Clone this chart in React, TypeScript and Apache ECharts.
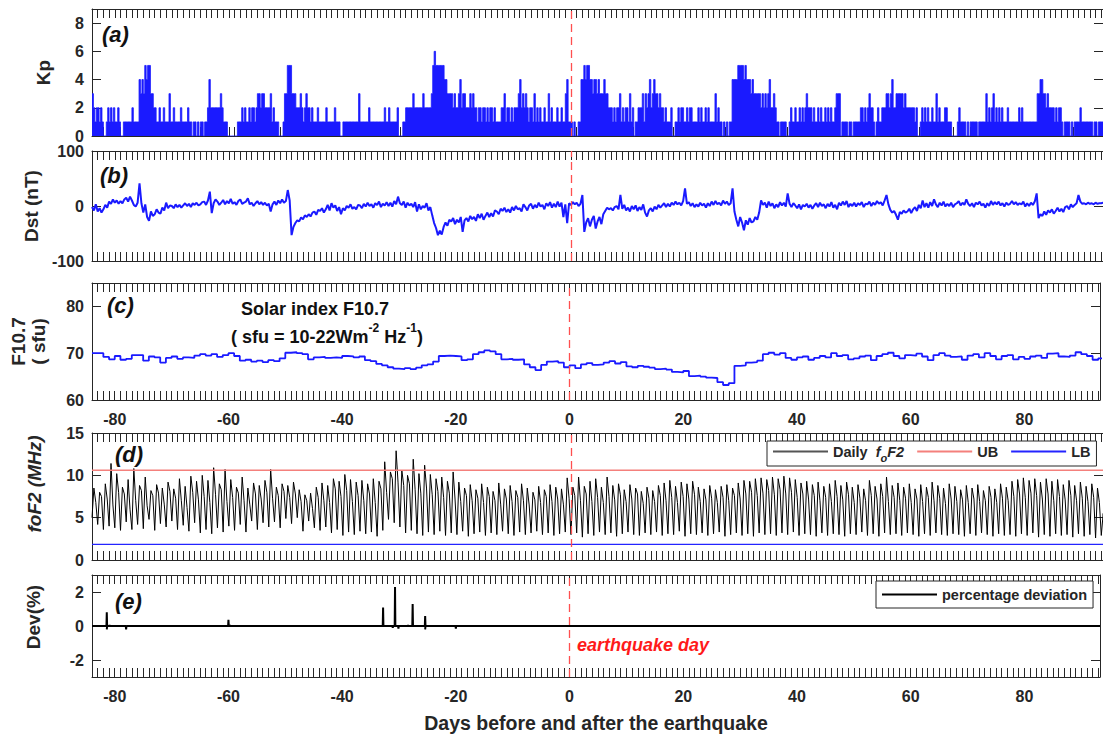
import React, { useEffect, useRef } from 'react';
import * as echarts from 'echarts';

// ---------- axis ranges / tick labels ----------
const X_MIN = -84;
const X_MAX = 93.3;
const xTickLabels = [-80, -60, -40, -20, 0, 20, 40, 60, 80];
const earthquakeDay = 0;

// ---------- (a) Kp, 4 values per day (6-hourly), days -84 .. 93 ----------
const kpRows = [
  '3212 2121 0012 1212 1121 0011 1111 2111 1434 3545',
  '5332 2112 1121 1131 1211 1121 1112 1101 1010 1101',
  '1242 2222 2232 1110 0000 0011 1212 1121 2212 3323',
  '3222 2312 1110 0013 3555 3332 2232 1232 2121 1121',
  '1111 2111 1121 1100 1111 1111 1113 1111 1121 1111',
  '1111 1211 2111 1120 0011 2222 2322 2222 3222 2235',
  '6555 5554 4333 3232 2342 3322 2323 2212 2122 1212',
  '2121 1112 2312 2121 2223 4232 3212 2131 2121 1211',
  '3121 1121 1211 3411 1010 0114 4545 5443 4434 3334',
  '3322 2121 2231 2122 1312 0112 2231 3234 2343 3232',
  '2121 1120 0112 1221 1212 2111 1212 1121 2111 1312',
  '1101 0101 1444 4555 5454 4434 3333 3232 3234 2232',
  '1101 1110 0121 1211 2121 2322 2121 1212 1121 2121',
  '1233 3011 1101 1011 1112 2121 2322 1012 1122 2332',
  '3422 3333 3232 2222 2120 0121 2121 1211 3121 1122',
  '1110 0001 2111 1010 1111 1011 1113 1212 3121 2121',
  '1121 1111 1121 2111 1111 1113 3443 3232 2221 2122',
  '1011 1101 0111 1211 1111 1101 1011 1111',
];

// ---------- (b) Dst (nT), 3 values per day ----------
const dstRows: number[][] = [
  [-2,-8,3, -10,-4,-12, -6,2,-3, 8,4,12, 6,10,4, 9,5,12, 15,8,17, 10,2,-1, 6,41,5, -12,3,-20],
  [-27,-10,-18, -15,-6,-12, -14,-3,-8, 6,-4,1, 0,-4,3, -2,2,-3, 1,5,0, 4,-2,5, 2,6,1, 3,7,8],
  [2,10,26, -13,5,12, 8,2,6, 11,3,9, 5,13,4, 7,2,9, 12,4,6, 8,14,3, 6,0,5, 9,3,7],
  [2,6,1, 4,-10,3, 8,2,10, 5,12,6, 9,29,10, -53,-38,-31, -26,-28,-21, -24,-17,-20, -15,-19,-12, -10,-16,-7],
  [-9,-4,-12, -6,2,-8, 5,-3,1, -9,-2,-15, -4,-8,0, -3,3,-5, -2,-6,2, 1,-4,4, -1,6,0, 3,-3,5],
  [2,8,-2, 4,1,7, 0,6,-1, 9,3,17, 5,2,8, -3,6,1, 4,-2,7, -10,3,-6, 0,-3,5, -8,-2,-17],
  [-31,-40,-53, -45,-52,-38, -30,-36,-25, -28,-22,-33, -25,-30,-20, -47,-26,-22, -28,-18,-24, -20,-27,-15, -22,-14,-25, -18,-12,-20],
  [-13,-19,-8, -10,-15,-5, -9,-3,-11, -6,-12,-2, -8,0,-6, -4,-10,3, -2,-8,1, 4,-5,2, -3,6,-1, 2,-6,5],
  [0,7,-3, 4,-2,8, -1,6,-20, 3,-31,5, 2,7,3, 6,0,4, 20,-47,-30, -22,-37,-25, -18,-41,-28, -20,-33,-15],
  [-9,-3,-6, -4,-8,-2, 0,-6,20, -5,2,-8, -3,-10,0, -6,1,-9, -2,-7,3, -12,-19,-8, -4,-10,-1, -6,2,-3],
  [1,5,-2, 4,-1,6, 2,8,3, 6,1,9, 32,4,7, 0,5,-2, 3,-1,6, 1,4,-3, 5,0,8, 2,9,3],
  [6,1,10, 4,8,2, 5,32,-10, -25,-37,-20, -30,-44,-26, -34,-22,-30, -28,-20,-25, -12,10,2, 6,-3,8, 0,5,-4],
  [3,-2,7, 1,6,-1, 23,4,-2, 5,1,-4, 3,-6,2, -1,4,-3, 2,-5,1, 5,-2,6, 0,3,-4, 4,-1,7],
  [-3,2,-6, 6,1,8, 2,9,-2, 4,0,6, -1,5,2, 7,-2,4, 3,8,0, 6,2,9, 4,7,1, 10,20,3],
  [-7,-12,-9, -16,-25,-11, -14,-8,-12, -10,-5,-13, -6,-2,-9, 2,-4,10, -2,5,-3, 7,0,12, 3,-2,6, 1,8,-1],
  [4,0,6, -2,3,5, 9,1,6, 2,12,4, 0,5,-2, 6,3,8, 1,4,-3, 5,0,9, 2,7,3, 8,1,5],
  [-1,6,2, 4,9,3, 7,2,5, 3,8,-1, 5,0,6, 2,8,23, -22,-15,-18, -10,-16,-8, -12,-6,-14, -9,-3,-10],
  [-5,-11,-2, 0,-6,3, -2,2,5, 20,8,4, 5,3,6, 4,5,3, 6,4,5, 5,6,7],
];

// ---------- (c) F10.7 (sfu), daily ----------
const f107Daily = [
  70.0, 70.0, 69.2, 68.7, 69.4, 68.6, 68.8, 69.6, 69.6, 68.4,
  69.3, 69.1, 68.0, 69.0, 69.3, 68.8, 69.1, 69.0, 69.5, 69.8,
  69.5, 69.8, 69.2, 69.6, 70.0, 69.4, 68.4, 68.6, 68.2, 68.4,
  68.1, 68.5, 68.3, 68.9, 70.1, 70.2, 70.0, 69.8, 68.7, 69.1,
  69.2, 69.0, 69.1, 69.0, 69.4, 69.3, 69.1, 69.3, 68.5, 68.3,
  67.7, 67.4, 67.0, 66.7, 66.6, 66.8, 66.6, 66.9, 67.4, 67.6,
  68.2, 69.4, 69.5, 69.4, 69.3, 68.5, 68.7, 69.8, 70.2, 70.6,
  70.4, 69.8, 68.7, 68.8, 68.6, 68.7, 67.6, 67.0, 66.4, 67.5,
  68.2, 68.3, 68.0, 67.0, 67.4, 66.8, 67.6, 67.9, 67.5, 67.6,
  68.0, 68.3, 67.8, 68.1, 67.2, 67.0, 67.3, 67.1, 66.9, 66.6,
  66.7, 66.5, 66.0, 65.9, 66.2, 65.1, 65.2, 65.0, 64.8, 64.7,
  63.8, 63.2, 63.6, 67.3, 67.4, 68.0, 68.1, 68.4, 69.8, 70.1,
  69.7, 70.0, 69.0, 68.6, 69.1, 69.3, 68.6, 69.0, 69.4, 69.1,
  70.0, 69.4, 69.6, 68.7, 68.9, 69.3, 69.5, 68.5, 69.4, 69.8,
  70.1, 69.4, 68.9, 69.6, 69.5, 69.9, 69.3, 68.5, 69.6, 70.0,
  69.5, 69.2, 69.3, 68.6, 69.5, 69.8, 69.1, 70.0, 69.4, 68.7,
  69.4, 69.6, 68.7, 69.2, 68.8, 69.3, 69.5, 69.0, 69.9, 70.0,
  69.3, 69.2, 69.5, 70.2, 69.8, 69.4, 68.6, 68.9,
];

// ---------- (d) foF2 (MHz), 3 values per day: night low, noon peak, evening ----------
const foF2Rows: number[][] = [
  [5.0,8.5,6.8, 4.2,8.0,7.5, 3.6,9.0,7.2, 4.0,11.4,6.5, 3.8,10.2,8.0, 3.5,8.6,7.8, 4.5,9.5,6.0, 3.6,10.8,7.0, 4.2,8.8,8.2, 3.7,9.8,6.4],
  [4.8,8.2,7.6, 3.5,8.9,7.9, 4.3,8.5,6.6, 3.9,9.2,8.1, 4.6,8.4,7.3, 3.6,9.6,7.0, 4.1,8.7,6.2, 3.4,9.9,8.0, 4.4,9.3,7.1, 3.2,10.0,7.5],
  [3.6,9.4,6.8, 3.1,10.9,7.7, 3.8,9.0,8.3, 3.3,10.7,6.9, 4.0,9.5,7.4, 3.5,8.6,7.9, 4.2,9.8,7.0, 3.3,8.5,6.6, 4.6,9.1,7.8, 3.6,8.8,7.2],
  [4.4,9.4,8.0, 3.9,10.7,7.3, 4.5,8.6,7.6, 3.8,9.0,8.1, 4.9,8.8,7.4, 4.3,9.2,7.8, 5.0,8.3,6.9, 3.4,7.7,7.0, 4.6,7.9,6.1, 3.8,8.6,7.4],
  [3.5,9.1,7.0, 3.9,8.8,6.8, 3.2,9.6,8.4, 3.6,9.3,7.5, 2.9,10.1,8.2, 3.3,9.5,6.9, 3.0,9.2,7.6, 3.4,9.4,7.0, 3.1,9.0,7.8, 3.3,9.6,6.8],
  [2.8,9.3,8.4, 3.5,11.6,8.0, 4.8,10.4,9.6, 4.4,12.9,9.2, 3.9,10.6,8.8, 3.2,10.0,9.0, 3.5,11.9,8.3, 3.1,10.2,7.9, 2.9,11.2,8.5, 3.3,10.1,7.7],
  [3.0,9.6,8.1, 3.4,9.8,7.4, 2.9,9.3,7.9, 3.2,10.4,7.2, 3.0,9.2,6.9, 3.4,8.5,7.6, 2.8,8.9,7.0, 3.1,8.3,7.3, 3.3,9.0,6.8, 2.9,8.6,7.5],
  [3.2,8.1,7.0, 3.0,9.1,6.6, 3.4,8.4,7.2, 3.1,8.8,6.9, 2.9,8.2,7.4, 3.3,9.0,7.0, 3.0,8.5,6.5, 3.2,8.0,7.1, 3.4,8.7,6.8, 3.0,8.3,7.5],
  [3.2,8.9,6.9, 2.9,8.6,7.2, 3.1,8.4,6.6, 3.3,9.7,7.3, 3.0,8.6,7.6, 3.2,9.8,7.0, 2.7,8.7,7.8, 3.1,9.3,6.9, 2.9,9.6,7.4, 3.3,8.6,6.8],
  [3.0,9.8,7.5, 3.2,8.8,7.1, 2.8,9.0,7.7, 3.1,8.3,6.9, 3.3,8.9,7.2, 3.0,8.5,7.8, 2.9,8.1,6.7, 3.2,8.6,7.3, 3.0,8.2,6.9, 3.3,8.8,7.6],
  [2.9,9.1,7.0, 3.1,9.4,7.4, 3.0,8.7,6.8, 3.4,9.2,7.5, 2.8,9.0,7.2, 3.1,9.3,7.7, 3.0,8.6,6.9, 3.2,8.4,7.1, 2.9,8.8,7.3, 3.1,8.3,6.8],
  [3.3,8.7,7.4, 2.8,8.9,7.0, 3.0,8.5,7.6, 3.2,9.1,7.2, 2.9,9.4,7.8, 3.1,9.3,8.0, 2.8,9.6,7.6, 3.2,9.7,7.9, 3.0,9.5,8.2, 3.1,9.8,7.7],
  [2.9,9.6,8.3, 3.2,9.9,7.8, 3.0,9.7,8.0, 3.3,9.5,7.4, 2.9,9.1,7.8, 3.1,9.3,7.2, 3.0,8.9,7.6, 2.8,9.2,7.0, 3.2,8.7,7.4, 2.9,9.0,6.9],
  [3.1,9.4,7.5, 3.0,8.8,7.1, 2.8,9.2,7.7, 3.1,8.6,6.8, 3.0,8.9,7.3, 3.3,8.4,7.0, 2.9,9.4,7.6, 3.1,8.7,7.2, 2.8,9.0,7.5, 3.2,9.8,6.9],
  [3.0,8.8,7.4, 3.1,9.1,7.0, 2.9,8.6,7.3, 3.2,9.0,6.8, 3.0,8.4,7.2, 2.8,8.9,6.9, 3.1,8.6,7.4, 2.9,9.2,7.0, 3.2,8.8,7.3, 3.0,8.5,6.7],
  [2.9,9.0,7.2, 3.1,8.7,6.9, 3.0,8.3,7.1, 2.8,8.8,6.8, 3.1,8.5,7.2, 2.9,8.9,6.9, 3.2,8.2,7.0, 3.0,8.7,7.4, 2.8,8.4,6.8, 3.1,9.0,7.3],
  [2.9,8.6,7.0, 3.0,9.3,7.5, 2.8,9.5,7.8, 3.1,9.7,7.4, 2.9,9.4,7.9, 3.2,9.6,7.6, 2.7,9.2,7.2, 3.0,9.6,7.8, 2.8,9.3,7.0, 3.1,9.5,7.5],
  [2.9,8.9,7.1, 3.0,9.4,7.6, 2.7,8.8,7.0, 3.1,9.2,7.3, 2.8,8.7,6.9, 3.0,9.0,7.4, 2.6,8.5,6.8, 2.9,5.5,3.5],
];
const upperBound = 10.6;
const lowerBound = 1.85;

// ---------- (e) percentage deviation spikes ----------
const devDays = [-81.4, -81.4, -80.9, -78, -60, -59.7, -32.8, -31.1, -30.7, -30.1, -28.4, -27.6, -25.4, -25.4, -20];
const devValues = [0.8, -0.2, 0.05, -0.2, 0.36, 0.05, 1.08, -0.1, 2.3, -0.15, 0.05, 1.3, 0.58, -0.2, -0.15];

// ---------- styling ----------
const FONT = '"Liberation Sans", Arial, Helvetica, sans-serif';
const INK = '#262626';
const BLUE = '#1a1aff';
const DASH_RED = '#ff4f4f';

const kpValues = kpRows.join('').replace(/\s+/g, '').split('').map(Number);
const kpData = kpValues.map((v, k) => [X_MIN + k * 0.25, v]);
kpData.push([X_MIN + kpValues.length * 0.25, kpValues[kpValues.length - 1]]);

const dstValues = dstRows.flat();
const dstData = dstValues.map((v, k) => [X_MIN + k / 3, v]);

const f107Data = f107Daily.map((v, k) => [X_MIN + k, v]);
f107Data.push([X_MIN + f107Daily.length, f107Daily[f107Daily.length - 1]]);

const foF2Values = foF2Rows.flat();
const foF2Data = foF2Values.map((v, k) => [X_MIN + k / 3, v]);

const devData: number[][] = [[X_MIN, 0]];
devDays.forEach((d, i) => {
  devData.push([d - 0.06, 0], [d, devValues[i]], [d + 0.06, 0]);
});
devData.push([X_MAX, 0]);

const gridDefs = [
  [9, 127],
  [151, 110],
  [283, 117],
  [433, 127],
  [575, 102],
];

const tickLabelStyle = { color: INK, fontFamily: FONT, fontWeight: 'bold', fontSize: 16, lineHeight: 14 };
const nameStyle = { color: INK, fontFamily: FONT, fontWeight: 'bold', fontSize: 19 };

function xAxes(gi: number, showLabels: boolean, name?: string) {
  const isTick20 = (v: number) => Math.abs(v - Math.round(v)) < 1e-6 && xTickLabels.includes(Math.round(v));
  const common = {
    type: 'value', gridIndex: gi, min: X_MIN, max: X_MAX, interval: 1,
    axisLine: { show: true, onZero: false, lineStyle: { color: INK, width: 1 } },
    axisTick: { show: true, inside: true, length: 9, lineStyle: { color: INK, width: 1 } },
    splitLine: { show: false },
  };
  return [
    {
      ...common, position: 'bottom',
      axisLabel: {
        show: showLabels, margin: 12, ...tickLabelStyle,
        formatter: (v: number) => (isTick20(v) ? String(Math.round(v)) : ''),
      },
      ...(name ? { name, nameLocation: 'middle', nameGap: 36, nameTextStyle: { ...nameStyle, fontSize: 19.5 } } : {}),
    },
    { ...common, position: 'top', axisLabel: { show: false } },
  ];
}

function yAxes(gi: number, range: any, labelFmt: (v: number) => string, name?: string, nameGap?: number, nameExtra?: any) {
  const common = {
    type: 'value', gridIndex: gi, ...range,
    axisLine: { show: true, onZero: false, lineStyle: { color: INK, width: 1 } },
    axisTick: { show: true, inside: true, length: 9, lineStyle: { color: INK, width: 1 } },
    splitLine: { show: false },
  };
  return [
    {
      ...common, position: 'left',
      axisLabel: { show: true, margin: 8, ...tickLabelStyle, formatter: labelFmt },
      ...(name ? { name, nameLocation: 'middle', nameGap, nameRotate: 90, nameTextStyle: { ...nameStyle, ...(nameExtra || {}) } } : {}),
    },
    { ...common, position: 'right', axisLabel: { show: false } },
  ];
}

const eqMarkLine = {
  silent: true, symbol: 'none', animation: false,
  label: { show: false },
  lineStyle: { color: DASH_RED, type: [8, 5], width: 1.3, opacity: 1 },
  data: [{ xAxis: earthquakeDay }],
};

function buildOption(): any {
  return {
    animation: false,
    backgroundColor: '#ffffff',
    grid: gridDefs.map(([top, height]) => ({ left: 92, width: 1012, top, height })),
    xAxis: [
      ...xAxes(0, false),
      ...xAxes(1, false),
      ...xAxes(2, true),
      ...xAxes(3, false),
      ...xAxes(4, true, 'Days before and after the earthquake'),
    ],
    yAxis: [
      ...yAxes(0, { min: 0, max: 9, interval: 2 }, (v) => (v % 2 === 0 ? String(v) : ''), 'Kp', 39),
      ...yAxes(1, { min: -100, max: 100, interval: 100 }, (v) => String(v), 'Dst (nT)', 41),
      ...yAxes(2, { min: 60, max: 85, interval: 10 }, (v) => (v % 10 === 0 ? String(v) : ''), 'F10.7\n( sfu)', 44, { fontSize: 19, lineHeight: 20 }),
      ...yAxes(3, { min: 0, max: 15, interval: 5 }, (v) => String(v)),
      ...yAxes(4, { min: -3, max: 3, splitNumber: 3 }, (v) => (Math.round(v) % 2 === 0 ? String(v) : '')),
    ],
    legend: [
      {
        left: 767, top: 441, orient: 'horizontal', selectedMode: false,
        data: [{ name: 'Daily foF2', itemStyle: { color: '#555555' } }, 'UB', 'LB'],
        icon: 'rect', itemWidth: 55, itemHeight: 2, itemGap: 13,
        padding: [3, 6, 3, 6], borderColor: INK, borderWidth: 1, backgroundColor: '#ffffff',
        formatter: (n: string) => (n === 'Daily foF2' ? '{a|Daily  }{b|f}{c|o}{b|F2}' : n),
        textStyle: {
          color: INK, fontFamily: FONT, fontWeight: 'bold', fontSize: 14.5,
          rich: {
            a: { color: INK, fontFamily: FONT, fontWeight: 'bold', fontSize: 14.5 },
            b: { color: INK, fontFamily: FONT, fontWeight: 'bold', fontStyle: 'italic', fontSize: 14.5 },
            c: { color: INK, fontFamily: FONT, fontWeight: 'bold', fontStyle: 'italic', fontSize: 11, padding: [12, 0, 0, 0] },
          },
        },
      },
      {
        left: 876, top: 581, orient: 'horizontal', selectedMode: false,
        data: ['percentage deviation'],
        icon: 'rect', itemWidth: 55, itemHeight: 2,
        padding: [6, 6, 6, 6], borderColor: INK, borderWidth: 1, backgroundColor: '#ffffff',
        textStyle: { color: INK, fontFamily: FONT, fontWeight: 'bold', fontSize: 14.5 },
      },
    ],
    graphic: [
      { type: 'text', left: 102, top: 23, silent: true, style: { text: '(a)', fill: '#111', font: `italic bold 22px ${FONT}` } },
      { type: 'text', left: 100, top: 164, silent: true, style: { text: '(b)', fill: '#111', font: `italic bold 22px ${FONT}` } },
      { type: 'text', left: 107, top: 294, silent: true, style: { text: '(c)', fill: '#111', font: `italic bold 22px ${FONT}` } },
      { type: 'text', left: 115, top: 443, silent: true, style: { text: '(d)', fill: '#111', font: `italic bold 22px ${FONT}` } },
      { type: 'text', left: 115, top: 590, silent: true, style: { text: '(e)', fill: '#111', font: `italic bold 22px ${FONT}` } },
      { type: 'text', left: 241, top: 300, silent: true, style: { text: 'Solar index F10.7', fill: '#111', font: `bold 18px ${FONT}` } },
      {
        type: 'text', left: 231, top: 322, silent: true,
        style: {
          text: '{a|( sfu = 10-22Wm}{s|-2}{a| Hz}{s|-1}{a|)}',
          fill: '#111',
          rich: {
            a: { fill: '#111', fontFamily: FONT, fontWeight: 'bold', fontSize: 18, lineHeight: 24, verticalAlign: 'bottom' },
            s: { fill: '#111', fontFamily: FONT, fontWeight: 'bold', fontSize: 12, lineHeight: 14, verticalAlign: 'top' },
          },
        },
      },
      {
        type: 'text', x: 34, y: 484, rotation: Math.PI / 2, silent: true,
        style: { text: 'foF2 (MHz)', fill: INK, font: `italic bold 19px ${FONT}`, align: 'center', verticalAlign: 'middle' },
      },
      {
        type: 'text', x: 33, y: 617, rotation: Math.PI / 2, silent: true,
        style: { text: 'Dev(%)', fill: INK, font: `bold 19px ${FONT}`, align: 'center', verticalAlign: 'middle' },
      },
      { type: 'text', left: 577, top: 636, silent: true, style: { text: 'earthquake day', fill: '#ff1a1a', font: `italic bold 18px ${FONT}` } },
    ],
    series: [
      {
        name: 'Kp', type: 'line', xAxisIndex: 0, yAxisIndex: 0, data: kpData, step: 'end',
        symbol: 'none', silent: true, lineStyle: { color: BLUE, width: 0.8 },
        areaStyle: { color: BLUE, opacity: 1 }, markLine: eqMarkLine,
      },
      {
        name: 'Dst', type: 'line', xAxisIndex: 2, yAxisIndex: 2, data: dstData,
        symbol: 'none', silent: true, lineStyle: { color: BLUE, width: 2 }, markLine: eqMarkLine,
      },
      {
        name: 'F10.7', type: 'line', xAxisIndex: 4, yAxisIndex: 4, data: f107Data, step: 'end',
        symbol: 'none', silent: true, lineStyle: { color: BLUE, width: 1.8 }, markLine: eqMarkLine,
      },
      {
        name: 'Daily foF2', type: 'line', xAxisIndex: 6, yAxisIndex: 6, data: foF2Data,
        symbol: 'none', silent: true, itemStyle: { color: '#000' }, lineStyle: { color: '#000', width: 1 }, markLine: eqMarkLine,
      },
      {
        name: 'UB', type: 'line', xAxisIndex: 6, yAxisIndex: 6, data: [[X_MIN, upperBound], [X_MAX, upperBound]],
        symbol: 'none', silent: true, itemStyle: { color: '#f4807c' }, lineStyle: { color: '#f4807c', width: 1.4 },
      },
      {
        name: 'LB', type: 'line', xAxisIndex: 6, yAxisIndex: 6, data: [[X_MIN, lowerBound], [X_MAX, lowerBound]],
        symbol: 'none', silent: true, itemStyle: { color: '#2424ff' }, lineStyle: { color: '#2424ff', width: 1.4 },
      },
      {
        name: 'percentage deviation', type: 'line', xAxisIndex: 8, yAxisIndex: 8, data: devData,
        symbol: 'none', silent: true, itemStyle: { color: '#000' }, lineStyle: { color: '#000', width: 2 }, markLine: eqMarkLine,
      },
    ],
  };
}

export default function App() {
  const ref = useRef<HTMLDivElement>(null);
  useEffect(() => {
    if (!ref.current) return;
    const chart = echarts.init(ref.current, undefined, { renderer: 'svg' });
    chart.setOption(buildOption());
    return () => chart.dispose();
  }, []);
  return (
    <div
      ref={ref}
      style={{ position: 'absolute', left: 0, top: 0, width: 1103, height: 734, background: '#fff' }}
    />
  );
}
